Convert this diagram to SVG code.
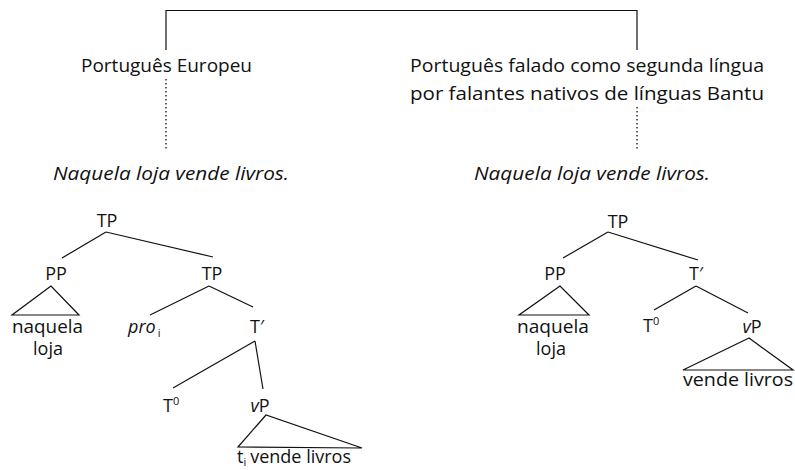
<svg xmlns="http://www.w3.org/2000/svg" width="795" height="470" viewBox="0 0 795 470">
<style>
text{font-family:"Open Sans","Liberation Sans",sans-serif;font-size:18px;fill:#111}
.c{text-anchor:middle}
.it{font-style:italic}
.sub{font-size:11px}
line,polygon{stroke:#111;stroke-width:1.2;fill:none}
.dot{stroke-dasharray:1.5 2.5;stroke-width:1.3}
</style>
<rect width="795" height="470" fill="#fff"/>
<g id="connectors">
<polyline points="166,50 166,10.5 637,10.5 637,50" fill="none" stroke="#111" stroke-width="1.2"/>
<line class="dot" x1="166" y1="79" x2="166" y2="149"/>
<line class="dot" x1="637" y1="107" x2="637" y2="149"/>
<line x1="106" y1="232" x2="62" y2="258"/>
<line x1="106" y1="232" x2="213" y2="257"/>
<line x1="209" y1="286" x2="150" y2="315"/>
<line x1="209" y1="286" x2="253" y2="307"/>
<line x1="255" y1="341" x2="173" y2="388"/>
<line x1="255" y1="341" x2="263" y2="389"/>
<line x1="608" y1="232" x2="563" y2="258"/>
<line x1="608" y1="232" x2="698" y2="260"/>
<line x1="696" y1="286" x2="654" y2="310"/>
<line x1="696" y1="286" x2="748" y2="313"/>
</g>
<g id="pe"><text x="81" y="72" textLength="171" lengthAdjust="spacingAndGlyphs">Português Europeu</text></g>
<g id="pb"><text x="410" y="72" textLength="354" lengthAdjust="spacingAndGlyphs">Português falado como segunda língua</text><text x="410" y="100" textLength="354" lengthAdjust="spacingAndGlyphs">por falantes nativos de línguas Bantu</text></g>
<g id="s1"><text x="53" y="180" class="it" textLength="236" lengthAdjust="spacingAndGlyphs">Naquela loja vende livros.</text></g>
<g id="s2"><text x="474" y="180" class="it" textLength="236" lengthAdjust="spacingAndGlyphs">Naquela loja vende livros.</text></g>
<g id="L-TP"><text x="107" y="227" class="c">TP</text></g>
<g id="L-PP"><text x="56" y="280" class="c">PP</text><polygon points="51,286 12,315 79,315"/><text x="12" y="333" textLength="71" lengthAdjust="spacingAndGlyphs">naquela</text><text x="48" y="355" class="c">loja</text></g>
<g id="L-TP2"><text x="212" y="280" class="c">TP</text></g>
<g id="L-pro"><text x="128" y="333"><tspan class="it">pro</tspan><tspan class="sub" dx="2" dy="4">i</tspan></text></g>
<g id="L-T1"><text x="257" y="333" class="c">T′</text></g>
<g id="L-T0"><text x="163" y="412">T<tspan class="sub" dy="-7">0</tspan></text></g>
<g id="L-vP"><text x="260" y="412" class="c"><tspan class="it">v</tspan>P</text><polygon points="266,415 238,447 362,448"/><text x="237" y="463">t<tspan class="sub" dy="3">i</tspan><tspan dy="-3" dx="4">vende livros</tspan></text></g>
<g id="R-TP"><text x="618" y="228" class="c">TP</text></g>
<g id="R-PP"><text x="555" y="280" class="c">PP</text><polygon points="560,286 519,315 589,315"/><text x="517" y="333" textLength="72" lengthAdjust="spacingAndGlyphs">naquela</text><text x="551" y="355" class="c">loja</text></g>
<g id="R-T1"><text x="696" y="280" class="c">T′</text></g>
<g id="R-T0"><text x="643" y="332">T<tspan class="sub" dy="-7">0</tspan></text></g>
<g id="R-vP"><text x="752" y="333" class="c"><tspan class="it">v</tspan>P</text><polygon points="749,338 683,370 793,370"/><text x="683" y="386" textLength="110" lengthAdjust="spacingAndGlyphs">vende livros</text></g>
</svg>
